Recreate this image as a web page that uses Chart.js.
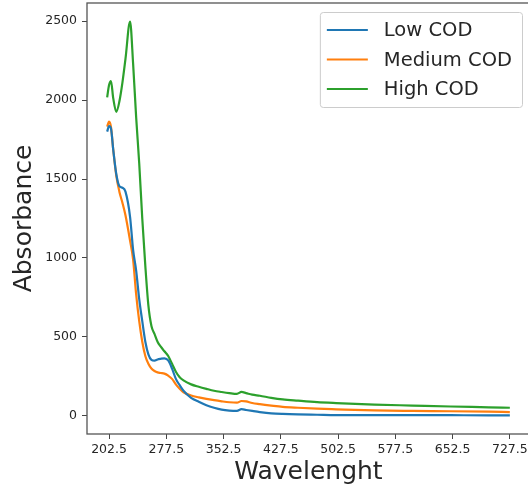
<!DOCTYPE html>
<html>
<head>
<meta charset="utf-8">
<script src="https://cdn.jsdelivr.net/npm/chart.js@4.4.0/dist/chart.umd.min.js"></script>
<style>
  html, body { margin: 0; padding: 0; background: #fff; overflow: hidden; }
  canvas { display: block; }
</style>
</head>
<body>
<canvas id="myChart" width="534" height="494"></canvas>
<script>
const wavelength = [200, 202.5, 205, 208, 212, 216, 220, 224, 230, 234, 238, 242, 246, 250, 254, 258, 262, 266, 270, 275, 280, 285, 290, 295, 300, 310, 320, 330, 340, 350, 360, 370, 376, 382, 390, 400, 415, 430, 450, 475, 500, 550, 600, 650, 700, 727.5]
const lowCod = [1800, 1835, 1820, 1684, 1530, 1455, 1445, 1420, 1261, 1051, 920, 740, 600, 470, 390, 355, 350, 358, 362, 365, 352, 300, 235, 195, 160, 115, 90, 68, 52, 40, 34, 32, 43, 38, 32, 25, 17, 13, 10, 8, 6, 6, 6, 5, 4, 4]
const mediumCod = [1831, 1863, 1830, 1684, 1520, 1420, 1350, 1270, 1110, 990, 770, 600, 470, 380, 330, 300, 285, 276, 272, 268, 255, 235, 200, 172, 150, 130, 118, 108, 100, 93, 87, 84, 95, 92, 82, 75, 66, 58, 52, 46, 42, 35, 32, 30, 27, 25]
const highCod = [2017, 2095, 2120, 2010, 1925, 1990, 2110, 2260, 2496, 2230, 1890, 1600, 1250, 950, 700, 570, 520, 470, 440, 410, 380, 330, 280, 245, 225, 200, 185, 172, 160, 152, 145, 140, 152, 145, 135, 128, 115, 105, 97, 88, 82, 72, 66, 60, 55, 52]
const xTicks = [202.5, 277.5, 352.5, 427.5, 502.5, 577.5, 652.5, 727.5]
const yTicks = [0, 500, 1000, 1500, 2000, 2500]

const FONT = 'DejaVu Sans'
const TXT = '#262626'

const pts = (ys) => ys.map((y, i) => ({ x: wavelength[i], y: y }))

// spines + legend drawn like matplotlib
const frameLegend = {
  id: 'frameLegend',
  afterDraw(chart) {
    const ctx = chart.ctx
    const ca = chart.chartArea
    ctx.save()
    ctx.strokeStyle = '#555'
    ctx.lineWidth = 1.3
    ctx.strokeRect(ca.left, ca.top, ca.right - ca.left, ca.bottom - ca.top)

    const fs = 19.5
    ctx.font = fs + 'px "' + FONT + '"'
    const sets = chart.data.datasets
    let tw = 0
    sets.forEach(d => { tw = Math.max(tw, ctx.measureText(d.label).width) })
    const w = 7 + 41 + 16 + tw + 10
    const h = 95
    const x0 = ca.right - 8 - w
    const y0 = ca.top + 9
    ctx.fillStyle = 'rgba(255,255,255,0.8)'
    ctx.strokeStyle = '#cccccc'
    ctx.lineWidth = 1
    ctx.beginPath()
    ctx.roundRect(x0 + 0.5, y0 + 0.5, w, h, 3)
    ctx.fill()
    ctx.stroke()
    ctx.textBaseline = 'middle'
    sets.forEach((d, i) => {
      const cy = y0 + 18 + i * 29.5
      ctx.strokeStyle = d.borderColor
      ctx.lineWidth = 2
      ctx.beginPath()
      ctx.moveTo(x0 + 7, cy)
      ctx.lineTo(x0 + 48, cy)
      ctx.stroke()
      ctx.fillStyle = TXT
      ctx.fillText(d.label, x0 + 64, cy + 1)
    })
    ctx.restore()
  }
}

const ctx = document.getElementById('myChart')
const myChart = new Chart(ctx, {
  type: 'line',
  data: {
    datasets: [{
      label: 'Low COD',
      data: pts(lowCod),
      borderColor: '#1f77b4'
    }, {
      label: 'Medium COD',
      data: pts(mediumCod),
      borderColor: '#ff7f0e'
    }, {
      label: 'High COD',
      data: pts(highCod),
      borderColor: '#2ca02c'
    }]
  },
  options: {
    responsive: false,
    animation: false,
    devicePixelRatio: 1,
    datasets: {
      line: {
        borderWidth: 2.2,
        pointRadius: 0,
        fill: false,
        cubicInterpolationMode: 'monotone'
      }
    },
    layout: { padding: { top: 3, right: 4, left: 0, bottom: 0 } },
    plugins: {
      legend: { display: false },
      tooltip: { enabled: false }
    },
    scales: {
      x: {
        type: 'linear',
        min: 173.6,
        max: 753.9,
        afterBuildTicks: s => { s.ticks = xTicks.map(v => ({ value: v })) },
        afterFit: s => { s.height = 60; s.paddingLeft = 0; s.paddingRight = 0 },
        ticks: {
          autoSkip: false,
          maxRotation: 0,
          padding: 3,
          color: TXT,
          font: { family: FONT, size: 12.5 },
          callback: v => v.toFixed(1)
        },
        grid: { drawOnChartArea: false, tickLength: 5, color: '#444' },
        border: { display: false },
        title: {
          display: true,
          text: 'Wavelenght',
          color: TXT,
          font: { family: FONT, size: 25 },
          padding: { top: 0, bottom: 7 }
        }
      },
      y: {
        min: -114,
        max: 2614,
        afterBuildTicks: s => { s.ticks = yTicks.map(v => ({ value: v })) },
        afterFit: s => { s.width = 87; s.paddingTop = 0; s.paddingBottom = 0 },
        ticks: {
          padding: 5,
          color: TXT,
          font: { family: FONT, size: 12.5 },
          callback: v => String(v)
        },
        grid: { drawOnChartArea: false, tickLength: 5, color: '#444' },
        border: { display: false },
        title: {
          display: true,
          text: 'Absorbance',
          color: TXT,
          font: { family: FONT, size: 25 },
          padding: { top: 9, bottom: 0 }
        }
      }
    }
  },
  plugins: [frameLegend]
})
</script>
</body>
</html>
